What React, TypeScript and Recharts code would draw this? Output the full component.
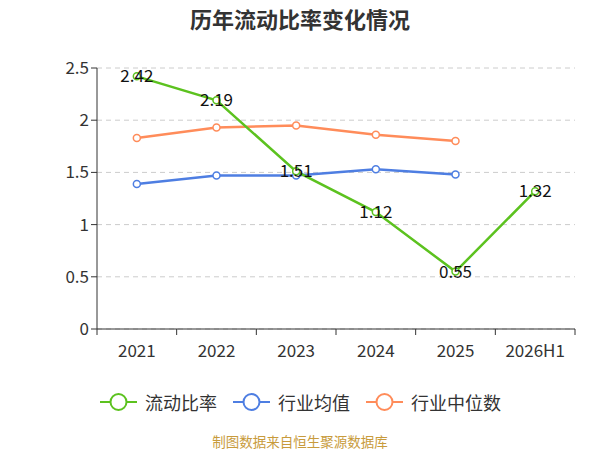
import React from "react";
import { LineChart, Line, XAxis, YAxis, CartesianGrid, LabelList } from "recharts";

const years = ["2021", "2022", "2023", "2024", "2025", "2026H1"];
const currentRatio = [2.42, 2.19, 1.51, 1.12, 0.55, 1.32];
const industryMean = [1.39, 1.47, 1.47, 1.53, 1.48, null];
const industryMedian = [1.83, 1.93, 1.95, 1.86, 1.8, null];
const yTicks = [0, 0.5, 1, 1.5, 2, 2.5];

const GREEN = "#5cc21f";
const BLUE = "#4e7ee2";
const ORANGE = "#ff8c5a";
const FONT = "'Noto Sans CJK SC', 'Noto Sans', sans-serif";

const data = years.map((y, i) => ({
  x: i + 0.5,
  year: y,
  ratio: currentRatio[i],
  mean: industryMean[i],
  median: industryMedian[i],
}));

const xTicks: number[] = [];
for (let i = 0; i <= years.length * 2; i++) xTicks.push(i / 2);

const XTick = (props: any) => {
  const { x, y, payload } = props;
  const v = payload.value as number;
  if (Number.isInteger(v)) {
    return <line x1={x} x2={x} y1={y - 8} y2={y - 2} stroke="#333" strokeWidth={1} />;
  }
  const label = years[Math.floor(v)];
  return (
    <text x={x} y={y + 20} textAnchor="middle" fill="#333" fontSize={17} fontFamily={FONT}>
      {label}
    </text>
  );
};

const ValueLabel = (props: any) => {
  const { x, y, value } = props;
  if (value == null) return null;
  return (
    <text x={x} y={y + 6} textAnchor="middle" fill="#111" fontSize={17} fontFamily={FONT}>
      {value}
    </text>
  );
};

const legendItems = [
  { name: "流动比率", color: GREEN },
  { name: "行业均值", color: BLUE },
  { name: "行业中位数", color: ORANGE },
];

export default function App() {
  return (
    <div style={{ position: "absolute", left: 0, top: 0, width: 600, height: 450, background: "#fff", fontFamily: FONT }}>
      <div style={{ position: "absolute", top: 3, width: 600, textAlign: "center", fontSize: 22, lineHeight: "30px", fontWeight: "bold", color: "#333" }}>
        历年流动比率变化情况
      </div>
      <LineChart width={600} height={450} data={data} margin={{ top: 68, right: 25, left: 47, bottom: 91 }}>
        <CartesianGrid vertical={false} stroke="#ccc" strokeDasharray="5 4" />
        <XAxis
          dataKey="x"
          type="number"
          domain={[0, 6]}
          ticks={xTicks}
          interval={0}
          tickLine={false}
          tick={<XTick />}
          axisLine={{ stroke: "#333" }}
        />
        <YAxis
          width={50}
          domain={[0, 2.5]}
          ticks={yTicks}
          tick={{ fill: "#333", fontSize: 17, fontFamily: FONT }}
          tickLine={{ stroke: "#333" }}
          axisLine={{ stroke: "#333" }}
        />
        <Line dataKey="median" stroke={ORANGE} strokeWidth={2.5} dot={{ r: 3.5, fill: "#fff", strokeWidth: 1.5 }} isAnimationActive={false} />
        <Line dataKey="mean" stroke={BLUE} strokeWidth={2.5} dot={{ r: 3.5, fill: "#fff", strokeWidth: 1.5 }} isAnimationActive={false} />
        <Line dataKey="ratio" stroke={GREEN} strokeWidth={2.5} dot={{ r: 3.5, fill: "#fff", strokeWidth: 1.5 }} isAnimationActive={false}>
          <LabelList dataKey="ratio" content={<ValueLabel />} />
        </Line>
      </LineChart>
      <div style={{ position: "absolute", top: 390, left: 100, display: "flex", alignItems: "center", fontSize: 18, lineHeight: "24px", color: "#333" }}>
        {legendItems.map((it) => (
          <div key={it.name} style={{ display: "flex", alignItems: "center", marginRight: 16 }}>
            <svg width={37} height={22} style={{ marginRight: 8 }}>
              <line x1={0} x2={37} y1={11} y2={11} stroke={it.color} strokeWidth={2} />
              <circle cx={18.5} cy={11} r={8} fill="#fff" stroke={it.color} strokeWidth={2} />
            </svg>
            <span>{it.name}</span>
          </div>
        ))}
      </div>
      <div style={{ position: "absolute", top: 433, width: 600, textAlign: "center", fontSize: 13.5, lineHeight: "16px", color: "#c89b3c" }}>
        制图数据来自恒生聚源数据库
      </div>
    </div>
  );
}
